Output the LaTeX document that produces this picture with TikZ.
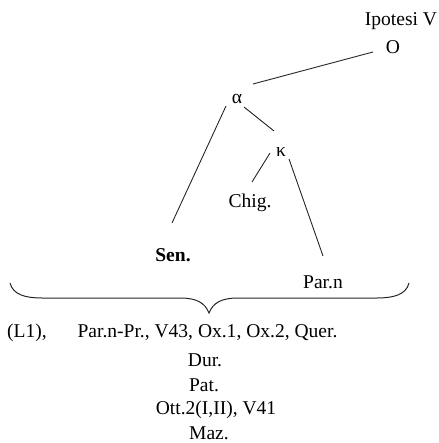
\documentclass[tikz,border=0pt]{standalone}
\usepackage{fontspec}
\setmainfont{Liberation Serif}
\usetikzlibrary{calc}
\begin{document}
\begin{tikzpicture}[x=1bp,y=-1bp,
  lbl/.style={inner sep=0pt,font=\fontsize{19.6}{23}\selectfont},
  conn/.style={line width=0.9bp,black!85}]
\useasboundingbox (0,0) rectangle (439,443);
\node[lbl] (ipo) at (401,21) {Ipotesi V};
\node[lbl] (O) at (393,47) {O};
\node[lbl] (alpha) at (237,99) {α};
\node[lbl] (kappa) at (281,152) {κ};
\node[lbl] (chig) at (250,203) {Chig.};
\node[lbl] (sen) at (173,255) {\textbf{Sen.}};
\node[lbl] (parn) at (323,282) {Par.n};
\draw[conn] ($(O.center)+(-20,5)$) -- ($(alpha.center)+(16,-15)$);
\draw[conn] ($(alpha.center)+(-11,7)$) -- ($(sen.center)+(-1,-32)$);
\draw[conn] ($(alpha.center)+(7,8)$) -- ($(kappa.center)+(-7,-21)$);
\draw[conn] ($(kappa.center)+(-11,1)$) -- ($(chig.center)+(2,-21)$);
\draw[conn] ($(kappa.center)+(8,7)$) -- ($(parn.center)+(0,-26)$);
% brace
\coordinate (bl) at (10,283);
\coordinate (tip) at (209,313);
\coordinate (br) at (409,283);
\draw[conn,line width=1bp] (bl) .. controls (13,295) and (26,298) .. (42,298)
  -- (180,298) .. controls (197,298) and (205,303) .. (tip)
  .. controls (213,303) and (221,298) .. (238,298)
  -- (377,298) .. controls (393,298) and (406,295) .. (br);
\node[lbl] (l1) at (27,333) {(L1),};
\node[lbl] (row1) at (207.5,333) {Par.n-Pr., V43, Ox.1, Ox.2, Quer.};
\node[lbl] (dur) at (205,360) {Dur.};
\node[lbl] (pat) at (204,385) {Pat.};
\node[lbl] (ott) at (216,410) {Ott.2(I,II), V41};
\node[lbl] (maz) at (209,433) {Maz.};
\end{tikzpicture}
\end{document}
